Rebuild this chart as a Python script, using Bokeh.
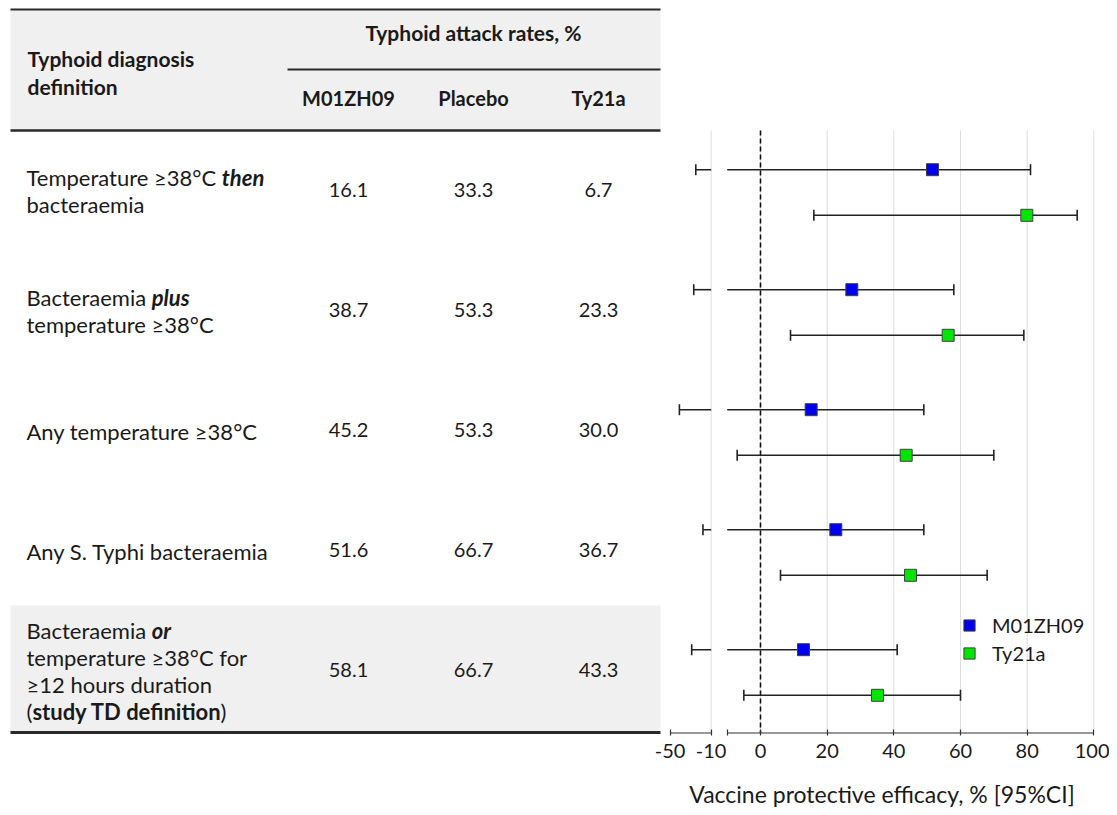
import glob
import numpy as np
from bokeh.plotting import figure
from bokeh.models import Range1d, FixedTicker, Legend, LegendItem, Title
from bokeh.core.properties import value
from bokeh.embed import file_html
from bokeh.resources import INLINE

try:
    from PIL import ImageFont
except Exception:
    ImageFont = None

# ---------------- data ----------------
columns = ["M01ZH09", "Placebo", "Ty21a"]
rate_m01 = [16.1, 38.7, 45.2, 51.6, 58.1]
rate_placebo = [33.3, 53.3, 53.3, 66.7, 66.7]
rate_ty21a = [6.7, 23.3, 30.0, 36.7, 43.3]

eff_m01 = [51.6, 27.4, 15.2, 22.6, 12.9]
lo_m01 = [-25, -27, -41, -18, -29]
hi_m01 = [81, 58, 49, 49, 41]

eff_ty21a = [79.9, 56.3, 43.7, 45.0, 35.1]
lo_ty21a = [16, 9, -7, 6, -5]
hi_ty21a = [95, 79, 70, 68, 60]

x_ticks = [-50, -10, 0, 20, 40, 60, 80, 100]
axis_break = -10

# row labels: lines made of (text, style) pieces
definitions = [
    [[("Temperature ≥38°C ", "normal"), ("then", "bold italic")], [("bacteraemia", "normal")]],
    [[("Bacteraemia ", "normal"), ("plus", "bold italic")], [("temperature ≥38°C", "normal")]],
    [[("Any temperature ≥38°C", "normal")]],
    [[("Any S. Typhi bacteraemia", "normal")]],
    [[("Bacteraemia ", "normal"), ("or", "bold italic")],
     [("temperature ≥38°C for", "normal")],
     [("≥12 hours duration", "normal")],
     [("(", "normal"), ("study TD definition", "bold"), (")", "normal")]],
]
header_left = ["Typhoid diagnosis", "definition"]
header_group = "Typhoid attack rates, %"
x_title = "Vaccine protective efficacy, % [95%CI]"

# ---------------- style / layout ----------------
FONT = "Lato"
TXT = "#1a1a1a"
BLUE = "#0000ee"
GREEN = "#00e600"
GRAY_BG = "#f0f0f0"

FONT_FILES = {"normal": "Lato-Regular.ttf", "bold": "Lato-Bold.ttf",
              "bold italic": "Lato-BoldItalic.ttf", "italic": "Lato-Italic.ttf"}
_font_cache = {}


def text_width(text, style, size):
    key = (style, size)
    if key not in _font_cache:
        _font_cache[key] = None
        if ImageFont is not None:
            hits = glob.glob("/usr/share/fonts/**/" + FONT_FILES[style], recursive=True) + \
                glob.glob("/usr/local/share/fonts/**/" + FONT_FILES[style], recursive=True)
            if hits:
                try:
                    _font_cache[key] = ImageFont.truetype(hits[0], size)
                except Exception:
                    _font_cache[key] = None
    f = _font_cache[key]
    if f is not None:
        return f.getlength(text)
    return 0.5 * size * len(text)


PAGE_X0, PAGE_Y0 = 0, 0
FRAME_W, FRAME_H = 1109, 735
ROW0_Y, ROW_H = 192, 120          # page y of first row centre, px per row
ZERO_X, PX_PER_UNIT = 760, 3.3333  # page x of efficacy 0, px per efficacy unit
GAP = 4.8                           # display units of the axis break
LEFT_K = 0.3075                     # compression of the left (-50..-10) piece
SERIES_OFF = 0.19


def py(page_y):
    return (page_y - ROW0_Y) / ROW_H


def left_disp(v):
    return axis_break - GAP + (np.asarray(v, dtype=float) - axis_break) * LEFT_K


def to_disp(v):
    v = np.asarray(v, dtype=float)
    return np.where(v < axis_break, left_disp(v), v)


left_break = float(left_disp(axis_break))

x_start = (PAGE_X0 - ZERO_X) / PX_PER_UNIT
x_end = (PAGE_X0 + FRAME_W - ZERO_X) / PX_PER_UNIT
y_top = py(PAGE_Y0)
y_bot = py(PAGE_Y0 + FRAME_H)

p = figure(frame_width=FRAME_W, frame_height=FRAME_H,
           x_range=Range1d(x_start, x_end), y_range=Range1d(y_bot, y_top),
           output_backend="svg", toolbar_location=None, y_axis_location=None,
           min_border=0, min_border_left=0, min_border_right=0, min_border_top=0,
           min_border_bottom=0)
p.extra_x_ranges = {"tab": Range1d(PAGE_X0, PAGE_X0 + FRAME_W)}
p.outline_line_color = None
p.xgrid.visible = False
p.ygrid.visible = False
p.background_fill_color = "white"
p.border_fill_color = "white"

# ---------------- table ----------------
TAB_L, TAB_R = 10, 660
p.quad(left=[TAB_L, TAB_L], right=[TAB_R, TAB_R],
       top=[py(9), py(605)], bottom=[py(130), py(732)],
       fill_color=GRAY_BG, line_color=None, x_range_name="tab")
p.segment(x0=[TAB_L, 287, TAB_L, TAB_L], x1=[TAB_R] * 4,
          y0=[py(9), py(69), py(130), py(732)], y1=[py(9), py(69), py(130), py(732)],
          line_color="#2a2a2a", line_width=[2, 2, 2.5, 3], x_range_name="tab")

COL_X = [348, 473, 598]
HDR_SIZE = 21
p.text(x=[27, 27], y=[py(58), py(86)], text=header_left,
       text_font=value(FONT), text_font_size=f"{HDR_SIZE}px", text_font_style="bold",
       text_color=TXT, text_baseline="middle", text_align="left", x_range_name="tab")
p.text(x=[COL_X[1]], y=[py(32)], text=[header_group],
       text_font=value(FONT), text_font_size=f"{HDR_SIZE}px", text_font_style="bold",
       text_color=TXT, text_baseline="middle", text_align="center", x_range_name="tab")
p.text(x=COL_X, y=[py(97)] * 3, text=columns,
       text_font=value(FONT), text_font_size="20px", text_font_style="bold",
       text_color=TXT, text_baseline="middle", text_align="center", x_range_name="tab")

# values
VAL_SIZE = 20
LBL_SIZE = 22
row_idx = np.arange(len(rate_m01))
val_x, val_y, val_t = [], [], []
for cx, rates in zip(COL_X, [rate_m01, rate_placebo, rate_ty21a]):
    for i, r in enumerate(rates):
        val_x.append(cx)
        val_y.append(i - 0.02)
        val_t.append(f"{r:.1f}")
p.text(x=val_x, y=val_y, text=val_t, text_font=value(FONT), text_font_size=f"{VAL_SIZE}px",
       text_color=TXT, text_baseline="middle", text_align="center", x_range_name="tab")

# row labels with mixed styles
LINE_H = 27.0 / ROW_H
pieces = {"normal": ([], [], []), "bold": ([], [], []), "bold italic": ([], [], [])}
for i, lines in enumerate(definitions):
    n = len(lines)
    for j, line in enumerate(lines):
        y = i - 0.01 + (j - (n - 1) / 2) * LINE_H
        x = 26.0
        for txt, style in line:
            xs, ys, ts = pieces[style]
            xs.append(x)
            ys.append(y)
            ts.append(txt)
            x += text_width(txt, style, LBL_SIZE)
for style, (xs, ys, ts) in pieces.items():
    if xs:
        p.text(x=xs, y=ys, text=ts, text_font=value(FONT), text_font_size=f"{LBL_SIZE}px",
               text_font_style=style, text_color=TXT, text_baseline="middle",
               text_align="left", x_range_name="tab")

# ---------------- forest plot ----------------
plot_top = py(130)
axis_y = py(732.5)

left_ticks = [t for t in x_ticks if t <= axis_break]
right_ticks = [t for t in x_ticks if t > axis_break]
lt_pos = [round(float(left_disp(t)), 4) for t in left_ticks]
tick_pos = lt_pos + [float(axis_break)] + [float(t) for t in right_ticks]
overrides = {pos: str(t) for pos, t in zip(lt_pos, left_ticks)}
overrides[float(axis_break)] = ""
for t in right_ticks:
    overrides[float(t)] = str(t)

grid_x = [lt_pos[-1]] + [float(t) for t in right_ticks]
p.segment(x0=grid_x, x1=grid_x, y0=[plot_top] * len(grid_x), y1=[axis_y] * len(grid_x),
          line_color="#dddddd", line_width=1)

# axis line in two pieces (broken axis)
p.segment(x0=[lt_pos[0], float(axis_break)], x1=[lt_pos[-1], float(right_ticks[-1])],
          y0=[axis_y, axis_y], y1=[axis_y, axis_y], line_color="#333333", line_width=1.2)

# zero line
p.segment(x0=[0], x1=[0], y0=[plot_top], y1=[axis_y], line_color="#111111",
          line_width=1.6, line_dash="5 3")

BAR_COLOR = "#222222"
series = [("M01ZH09", eff_m01, lo_m01, hi_m01, -SERIES_OFF, BLUE),
          ("Ty21a", eff_ty21a, lo_ty21a, hi_ty21a, SERIES_OFF, GREEN)]
legend_items = []
for name, eff, lo, hi, off, color in series:
    lo_a = np.asarray(lo, dtype=float)
    hi_a = np.asarray(hi, dtype=float)
    y = row_idx + off
    # right piece
    p.segment(x0=np.maximum(lo_a, axis_break), x1=hi_a, y0=y, y1=y,
              line_color=BAR_COLOR, line_width=1.6)
    # left piece (values below the break)
    m = lo_a < axis_break
    if m.any():
        p.segment(x0=to_disp(lo_a[m]), x1=np.full(m.sum(), left_break), y0=y[m], y1=y[m],
                  line_color=BAR_COLOR, line_width=1.6)
    # caps
    p.scatter(x=np.concatenate([to_disp(lo_a), to_disp(hi_a)]), y=np.concatenate([y, y]),
              marker="dash", angle=np.pi / 2, size=11, line_color=BAR_COLOR, line_width=1.6)
    r = p.scatter(x=to_disp(eff), y=y, marker="square", size=12, fill_color=color,
                  line_color="#404040", line_width=1)
    legend_items.append(LegendItem(label=name, renderers=[r]))

legend = Legend(items=legend_items, location=(954, 68), orientation="vertical",
                glyph_width=30, glyph_height=28, label_height=26, spacing=0, padding=0,
                margin=0, label_standoff=8, border_line_color=None,
                background_fill_alpha=0, label_text_font=FONT,
                label_text_font_size="20px", label_text_color=TXT)
p.add_layout(legend)

# x axis
ax = p.xaxis[0]
ax.ticker = FixedTicker(ticks=tick_pos)
ax.major_label_overrides = overrides
ax.bounds = (lt_pos[0], float(right_ticks[-1]))
ax.axis_line_color = None
ax.major_tick_in = 6
ax.major_tick_out = 0
ax.major_tick_line_color = "#333333"
ax.major_tick_line_width = 1.2
ax.minor_tick_line_color = None
ax.major_label_text_font = FONT
ax.major_label_text_font_size = "20px"
ax.major_label_text_color = TXT
ax.major_label_standoff = 8

# axis title, centred under the drawn (broken) axis extent
TITLE_SIZE = 23
axis_mid_page = ZERO_X + PX_PER_UNIT * (lt_pos[0] + float(right_ticks[-1])) / 2
title_w = text_width(x_title, "normal", TITLE_SIZE)
title = Title(text=x_title, align="left", offset=axis_mid_page - title_w / 2 - PAGE_X0,
              text_font=FONT, text_font_size=f"{TITLE_SIZE}px", text_font_style="normal",
              text_color=TXT, standoff=35)
p.add_layout(title, "below")

open("out.html", "w").write(file_html(p, INLINE))
